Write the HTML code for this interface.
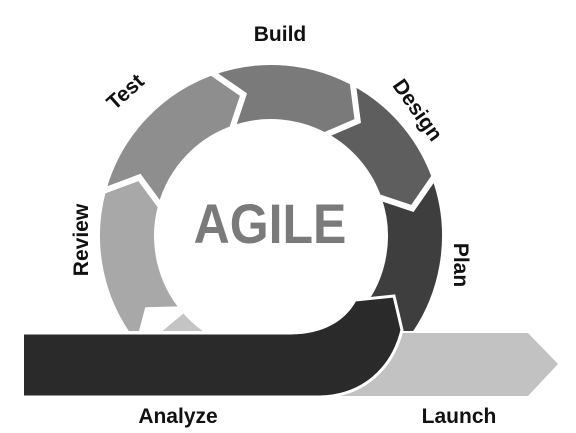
<!DOCTYPE html><html><head><style>body{margin:0;background:#fff}svg{display:block}text{font-family:"Liberation Sans",sans-serif;font-weight:bold;fill:#111;font-size:21px}</style></head><body>
<svg id="s" width="576" height="433" viewBox="0 0 576 433">
<defs><clipPath id="c"><rect x="0" y="0" width="576" height="331"/></clipPath></defs>
<g id="ring" clip-path="url(#c)"></g>
<path d="M325,333 L528,333 L558,364 L528,396 L320,396 Z" fill="#c2c2c2"/>
<path d="M22,333 L290,333 C325,333 345,318 355,300 L394,296 L402,330 C392,370 362,396 320,397 L22,397 Z" fill="#2a2a2a" stroke="#fff" stroke-width="3"/>
<rect x="18" y="334" width="6" height="62" fill="#fff"/>
<text transform="translate(270,243) scale(1,1.12)" text-anchor="middle" style="font-size:50px;fill:#7a7a7a">AGILE</text>
<text x="280" y="41" text-anchor="middle">Build</text>
<text transform="translate(130,97) rotate(-42)" text-anchor="middle">Test</text>
<text transform="translate(412,114) rotate(55)" text-anchor="middle">Design</text>
<text transform="translate(454,265) rotate(90)" text-anchor="middle">Plan</text>
<text transform="translate(88,240) rotate(-90)" text-anchor="middle">Review</text>
<text x="178" y="423" text-anchor="middle">Analyze</text>
<text x="459" y="423" text-anchor="middle">Launch</text>
</svg>
<script>
var cx=271,cy=236,R=174,r=114,m=(R+r)/2,d=9;
function p(a,rad){a=a*Math.PI/180;return (cx+rad*Math.cos(a)).toFixed(1)+","+(cy+rad*Math.sin(a)).toFixed(1);}
function seg(a0,a1,c,tip){
 var large=(a1-a0)>180?1:0;
 var s="M"+p(a0,R)+" A"+R+","+R+" 0 "+large+" 1 "+p(a1,R)+" L"+p(a1+(tip?d:0),m)+" L"+p(a1,r)+" A"+r+","+r+" 0 "+large+" 0 "+p(a0,r)+" L"+p(a0+(tip?d:0),m)+" Z";
 return '<path d="'+s+'" fill="'+c+'" stroke="#fff" stroke-width="6" stroke-linejoin="miter"/>';
}
var h="";
h+=seg(105,140,"#c4c4c4",0);
h+=seg(140,195,"#a8a8a8",1);
h+=seg(-165,-108,"#8e8e8e",1);
h+=seg(-110,-60,"#7a7a7a",1);
h+=seg(-62,-18,"#5e5e5e",1);
h+=seg(-20,40,"#3e3e3e",1);
document.getElementById("ring").innerHTML=h;
</script>
</body></html>
